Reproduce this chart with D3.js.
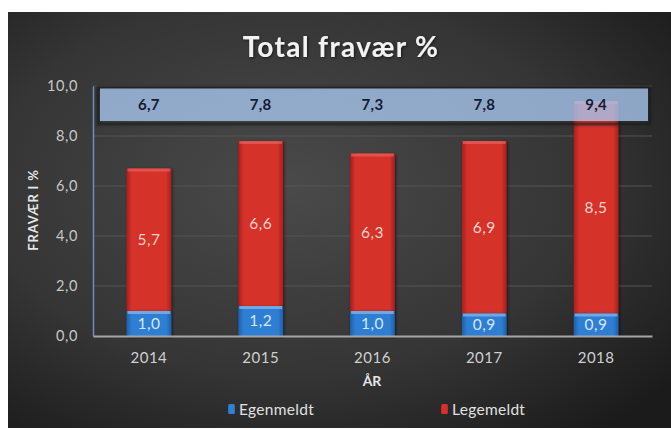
<!DOCTYPE html>
<html><head><meta charset="utf-8">
<script src="https://cdn.jsdelivr.net/npm/d3@7"></script>
<style>
html,body{margin:0;padding:0;background:#fff;}
svg{display:block;}
</style></head>
<body>
<script>
const years = ["2014","2015","2016","2017","2018"];
const egenmeldt = [1.0,1.2,1.0,0.9,0.9];
const legemeldt = [5.7,6.6,6.3,6.9,8.5];
const total = [6.7,7.8,7.3,7.8,9.4];
const yTicks = [0,2,4,6,8,10];
const totalBand = [8.6,9.9];
const seriesNames = ["Egenmeldt","Legemeldt"];

const W=671,H=430;
const locale = d3.formatLocale({decimal:",",thousands:".",grouping:[3],currency:["","kr"]});
const fmt = locale.format(".1f");
const FONT = "Lato, 'Open Sans', sans-serif";

const svg = d3.select("body").append("svg").attr("width",W).attr("height",H);
const defs = svg.append("defs");

const bg = defs.append("radialGradient").attr("id","bg").attr("cx","0.42").attr("cy","0.42").attr("r","0.75");
bg.append("stop").attr("offset","0").attr("stop-color","#4a4a4a");
bg.append("stop").attr("offset","0.6").attr("stop-color","#353535");
bg.append("stop").attr("offset","1").attr("stop-color","#1b1b1b");

function barGrad(id, edge, mid){
  const g = defs.append("linearGradient").attr("id",id).attr("x1","0").attr("x2","1").attr("y1","0").attr("y2","0");
  g.append("stop").attr("offset","0").attr("stop-color",edge);
  g.append("stop").attr("offset","0.12").attr("stop-color",mid);
  g.append("stop").attr("offset","0.88").attr("stop-color",mid);
  g.append("stop").attr("offset","1").attr("stop-color",edge);
}
barGrad("red","#a81f1c","#d5322c");
barGrad("blue","#1f5fa8","#2f7fd3");

const sh = defs.append("filter").attr("id","shadow").attr("x","-20%").attr("y","-20%").attr("width","140%").attr("height","140%");
sh.append("feDropShadow").attr("dx",1).attr("dy",1).attr("stdDeviation",1.5).attr("flood-color","#000").attr("flood-opacity",0.6);
const blur = defs.append("filter").attr("id","blur").attr("x","-10%").attr("y","-50%").attr("width","120%").attr("height","200%");
blur.append("feGaussianBlur").attr("stdDeviation",1.2);

svg.append("rect").attr("x",8).attr("y",12).attr("width",W-8).attr("height",H-14).attr("fill","url(#bg)");

const x = d3.scaleBand().domain(years).range([93,652]).paddingInner(0.6).paddingOuter(0.3);
const y = d3.scaleLinear().domain([0,10]).range([336,86]);

// gridlines
svg.append("g").selectAll("line").data(yTicks.filter(d=>d>0)).join("line")
  .attr("x1",93).attr("x2",652).attr("y1",d=>y(d)).attr("y2",d=>y(d))
  .attr("stroke","#555").attr("stroke-width",1);

// y tick labels via axis
const yAxis = svg.append("g").attr("transform","translate(93,0)")
  .call(d3.axisLeft(y).tickValues(yTicks).tickFormat(fmt).tickSize(0).tickPadding(15));
yAxis.select(".domain").attr("stroke","#6d8fc0").attr("stroke-width",1.5);
yAxis.selectAll("text").attr("fill","#c8c8c8").style("font-family",FONT).style("font-size","14.5px").style("letter-spacing","0.6px");

// bars
const g = svg.append("g");
years.forEach((yr,i)=>{
  const bx = x(yr), bw = x.bandwidth();
  g.append("rect").attr("x",bx).attr("y",y(egenmeldt[i]+legemeldt[i])).attr("width",bw)
    .attr("height",y(egenmeldt[i])-y(egenmeldt[i]+legemeldt[i])).attr("fill","url(#red)").attr("filter","url(#shadow)");
  g.append("rect").attr("x",bx+1).attr("y",y(egenmeldt[i]+legemeldt[i])).attr("width",bw-2).attr("height",3)
    .attr("fill","#e8605a").attr("opacity",0.7);
  g.append("rect").attr("x",bx).attr("y",y(egenmeldt[i])).attr("width",bw)
    .attr("height",y(0)-y(egenmeldt[i])).attr("fill","url(#blue)").attr("filter","url(#shadow)");
  g.append("rect").attr("x",bx+1).attr("y",y(egenmeldt[i])).attr("width",bw-2).attr("height",3)
    .attr("fill","#7fb4ea").attr("opacity",0.8);
  g.append("text").attr("x",bx+bw/2).attr("y",y(egenmeldt[i]+legemeldt[i]/2)).attr("dy","0.35em")
    .attr("text-anchor","middle").attr("fill","#f6d2cc").style("font-family",FONT).style("font-size","15.5px").style("letter-spacing","0.5px")
    .text(fmt(legemeldt[i]));
  g.append("text").attr("x",bx+bw/2).attr("y",y(egenmeldt[i]/2)).attr("dy","0.35em")
    .attr("text-anchor","middle").attr("fill","#d6e6f8").style("font-family",FONT).style("font-size","15.5px").style("letter-spacing","0.5px")
    .text(fmt(egenmeldt[i]));
});

// x axis
const xAxis = svg.append("g").attr("transform","translate(0,336)")
  .call(d3.axisBottom(x).tickSize(0).tickPadding(16).tickSizeOuter(0));
xAxis.select(".domain").attr("stroke","#a6a6a6").attr("stroke-width",2);
xAxis.selectAll("text").attr("fill","#d0d0d0").style("font-family",FONT).style("font-size","15px").style("letter-spacing","0.5px");

// total band
const by0 = y(totalBand[1]), by1 = y(totalBand[0]);
svg.append("rect").attr("x",98).attr("y",by0-1).attr("width",552).attr("height",by1-by0+4)
  .attr("fill","none").attr("stroke","#1e1e1e").attr("stroke-width",3).attr("opacity",0.8).attr("filter","url(#blur)");
svg.append("rect").attr("x",100).attr("y",by0).attr("width",548).attr("height",by1-by0)
  .attr("fill","#a6c6ee").attr("opacity",0.8);
svg.append("g").selectAll("text").data(total).join("text")
  .attr("x",(d,i)=>x(years[i])+x.bandwidth()/2).attr("y",y((totalBand[0]+totalBand[1])/2)).attr("dy","0.35em")
  .attr("text-anchor","middle").attr("fill","#141c33").style("font-family",FONT).style("font-weight","700").style("font-size","15px").style("letter-spacing","0.3px")
  .text(d=>fmt(d));

// title
svg.append("text").attr("x",341).attr("y",57).attr("text-anchor","middle").attr("fill","#f2f2f2")
  .attr("filter","url(#shadow)")
  .style("font-family",FONT).style("font-weight","700").style("font-size","28px").style("letter-spacing","1.3px")
  .text("Total fravær %");

// axis titles
svg.append("text").attr("transform","translate(33,210) rotate(-90)").attr("text-anchor","middle").attr("dy","0.35em")
  .attr("fill","#e6e6e6").style("font-family",FONT).style("font-weight","700").style("font-size","13px").style("letter-spacing","0.8px").text("FRAVÆR I %");
svg.append("text").attr("x",372).attr("y",381).attr("text-anchor","middle").attr("dy","0.35em")
  .attr("fill","#e6e6e6").style("font-family",FONT).style("font-weight","700").style("font-size","14px").text("ÅR");

// legend
const legend = [{name:seriesNames[0],fill:"url(#blue)",mx:228},{name:seriesNames[1],fill:"url(#red)",mx:441}];
legend.forEach(l=>{
  svg.append("rect").attr("x",l.mx).attr("y",404).attr("width",7).attr("height",10).attr("rx",1.5).attr("fill",l.fill);
  svg.append("text").attr("x",l.mx+11).attr("y",410).attr("dy","0.35em").attr("fill","#e0e0e0")
    .style("font-family",FONT).style("font-size","15.5px").style("letter-spacing","0.3px").text(l.name);
});
</script>
</body></html>
